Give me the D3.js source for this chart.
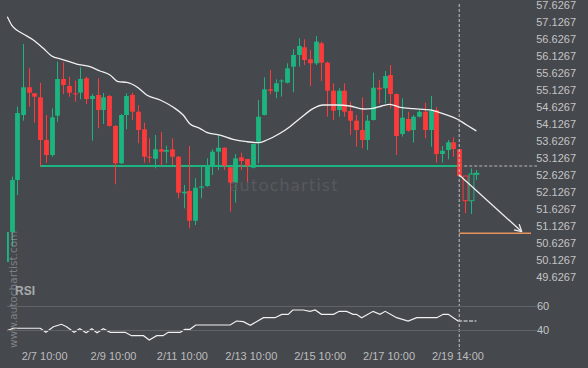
<!DOCTYPE html>
<html><head><meta charset="utf-8">
<script src="https://cdn.jsdelivr.net/npm/d3@7/dist/d3.min.js"></script>
<style>html,body{margin:0;padding:0;background:#45484d;}svg{display:block;}</style>
</head><body>
<script>
// ---- data ----
const open  = [50.068,50.950,52.480,54.391,55.206,55.029,54.912,53.656,53.215,54.371,55.450,55.244,55.029,55.047,55.471,54.862,54.980,54.538,54.950,54.068,52.971,54.391,54.980,54.488,53.971,53.165,53.106,53.382,53.312,53.382,53.165,52.088,52.156,51.283,52.253,52.303,52.891,53.312,53.429,52.853,52.400,53.147,53.097,52.841,53.606,54.391,55.147,55.077,55.377,55.341,55.812,56.156,56.383,56.030,55.912,56.500,55.930,55.106,54.538,55.106,54.509,54.224,53.950,53.656,54.244,55.194,55.177,55.568,55.009,53.833,54.274,53.950,54.341,54.488,53.950,54.538,53.244,53.362,53.588,53.382,52.597,51.871,52.650];
const high  = [50.980,52.577,54.636,56.480,55.765,55.029,55.341,54.391,54.588,55.959,55.941,55.518,55.400,55.794,55.518,55.009,55.471,55.038,54.980,54.097,54.421,55.029,55.047,54.677,54.165,53.706,53.803,53.891,53.488,53.706,53.185,52.333,53.480,52.530,52.871,53.118,53.382,53.803,53.440,52.860,53.244,53.282,53.100,53.550,54.833,55.500,55.715,55.441,55.441,55.912,56.324,56.648,56.618,56.303,56.715,56.548,55.959,55.324,55.177,55.324,54.782,54.391,54.912,54.391,55.635,55.421,55.685,55.862,55.020,54.882,54.488,54.391,54.538,54.753,54.950,54.618,53.480,53.656,53.735,53.390,52.600,52.824,52.774];
const low   = [50.039,50.518,52.039,54.224,54.636,54.165,52.891,52.988,53.165,54.194,55.009,54.930,54.782,54.853,54.715,53.635,54.000,54.127,54.048,52.353,52.950,53.971,54.244,53.559,52.988,52.988,52.824,52.912,52.971,52.921,51.941,51.647,51.059,51.156,51.941,52.280,52.626,52.774,52.774,51.547,51.812,52.774,52.333,52.824,52.971,54.380,55.000,54.882,54.930,55.320,55.059,55.812,55.862,55.244,55.862,55.391,54.341,54.244,54.341,54.341,53.803,53.459,53.412,53.362,54.230,54.735,54.735,54.588,53.215,53.753,53.900,53.577,54.320,53.706,53.459,52.988,52.988,53.088,53.165,52.570,51.500,51.480,52.480];
const close = [50.950,52.480,54.450,55.206,55.047,54.930,53.656,53.215,54.324,55.450,55.274,55.047,55.009,55.450,54.862,54.950,54.538,54.912,54.068,52.971,54.391,54.950,54.488,53.950,53.165,53.141,53.382,53.312,53.362,53.165,52.106,52.135,51.283,52.253,52.289,52.871,53.312,53.429,52.900,52.400,53.118,53.038,52.900,53.538,54.341,55.147,55.106,55.324,55.406,55.765,56.156,56.421,56.009,55.912,56.548,55.930,55.106,54.518,55.106,54.488,54.224,53.950,53.656,54.224,55.194,55.147,55.538,55.009,53.774,54.312,53.930,54.341,54.488,53.950,54.518,53.244,53.341,53.588,53.391,52.597,51.871,52.656,52.677];

const maIdx = [0.27,1.03,1.9,3.06,4.8,6.54,8.0,9.75,12.36,14.68,16.42,18.16,19.6,21.07,22.8,24.55,26.9,29.2,30.9,32.1,33.8,35.0,37.3,39.6,42.0,44.0,45.5,47.8,49.5,51.3,53.6,55.3,57.7,59.97,62.3,64.0,65.5,66.9,68.7,71.0,73.9,76.8,78.6,80.3,82.0];
const maVal = [57.283,57.038,56.891,56.774,56.597,56.353,56.127,56.030,55.891,55.812,55.686,55.568,55.371,55.353,55.224,54.980,54.833,54.618,54.391,54.127,54.000,53.883,53.803,53.677,53.606,53.577,53.656,53.853,54.047,54.294,54.588,54.686,54.686,54.656,54.568,54.588,54.656,54.706,54.618,54.577,54.539,54.392,54.274,54.097,53.921];

const rsiIdx = [0.27,1.3,6.0,7.0,8.3,9.7,10.6,11.9,12.9,14.0,15.0,15.9,17.0,18.2,20.8,21.9,24.0,25.0,26.3,27.4,28.3,30.4,31.2,32.1,33.1,39.1,40.2,41.4,42.6,44.9,46.9,48.1,49.2,50.0,51.8,53.0,53.9,55.0,57.1,58.1,59.4,60.5,61.1,62.0,64.0,65.2,66.1,68.1,70.1,71.6,75.1,76.2,77.1,78.8,82.0];
const rsiVal = [39.7,41.7,41.7,38.3,43.0,45.0,43.0,38.3,41.3,38.0,41.3,38.0,41.3,38.3,38.3,35.5,35.5,31.9,35.5,35.5,38.3,38.3,40.8,40.8,44.4,44.4,47.75,47.2,44.2,50.5,50.5,53.3,53.3,56.9,56.9,55.8,56.9,53.3,53.3,55.8,55.8,53.3,53.3,50.5,55.8,53.3,55.8,50.5,47.75,50.5,50.5,53.3,53.3,47.75,47.75];

const priceTicks = [57.6267,57.1267,56.6267,56.1267,55.6267,55.1267,54.6267,54.1267,53.6267,53.1267,52.6267,52.1267,51.6267,51.1267,50.6267,50.1267,49.6267];
const rsiTicks = [60,40];
const xLabelIdx = [7,19,31,43,55,67,79];
const xLabels = ["2/7 10:00","2/9 10:00","2/11 10:00","2/13 10:00","2/15 10:00","2/17 10:00","2/19 14:00"];

const supportLevel = 52.891;   // horizontal support line
const targetLevel = 50.912;    // forecast target
const signalIdx = 79;          // dashed vertical line
const arrowStart = {i:79, v:52.627};
const arrowEnd = {i:89.9, v:50.959};

// ---- drawing ----
const W = 588, H = 368;
const GREEN = "#1cb57f", RED = "#fd3a3a", BG = "#45484d";
const svg = d3.select("body").append("svg").attr("width", W).attr("height", H);
svg.append("rect").attr("width", W).attr("height", H).attr("fill", BG);

const x = d3.scaleLinear().domain([0, 82]).range([5.76, 5.76 + 82*5.74]);
const y = d3.scaleLinear().domain([49.6267, 57.6267]).range([277, 5]);
const yr = d3.scaleLinear().domain([40, 60]).range([330.3, 306.3]);

svg.append("defs").append("clipPath").attr("id","clip")
  .append("rect").attr("x",7).attr("y",0).attr("width",530).attr("height",H);

const plot = svg.append("g").attr("clip-path","url(#clip)");

// watermark
svg.append("text").attr("x", 284).attr("y", 191).attr("text-anchor","middle")
  .attr("font-family","Lato, 'DejaVu Sans', sans-serif").attr("font-size",18)
  .attr("letter-spacing",1.2).attr("fill","#56595e").text("autochartist");

// support line
plot.append("line").attr("x1", 40).attr("x2", x(signalIdx))
  .attr("y1", y(supportLevel)).attr("y2", y(supportLevel))
  .attr("stroke", GREEN).attr("stroke-width", 2);
plot.append("line").attr("x1", x(signalIdx)).attr("x2", 537)
  .attr("y1", y(supportLevel)).attr("y2", y(supportLevel))
  .attr("stroke", "#b8b8b8").attr("stroke-width", 1).attr("stroke-dasharray","3,2");

// candles
const data = open.map((o,i)=>({i, o, h:high[i], l:low[i], c:close[i]}));
const bw = 4.8;
const cg = plot.append("g");
data.forEach(d=>{
  const up = d.c >= d.o;
  const col = up ? GREEN : RED;
  const hollow = d.i > signalIdx;
  const cx = Math.round(x(d.i)) + 0.5;
  cg.append("line").attr("x1",cx).attr("x2",cx).attr("y1",y(d.h)).attr("y2",y(d.l))
    .attr("stroke",col).attr("stroke-width",1);
  const top = y(Math.max(d.o,d.c)), bot = y(Math.min(d.o,d.c));
  const hgt = Math.max(1, bot-top);
  cg.append("rect").attr("x", cx - bw/2).attr("y", top).attr("width", bw).attr("height", hgt)
    .attr("fill", hollow ? BG : col).attr("stroke", hollow ? col : "none").attr("stroke-width",1);
});

// moving average
plot.append("path").datum(maIdx.map((d,k)=>[d, maVal[k]]))
  .attr("d", d3.line().x(d=>x(d[0])).y(d=>y(d[1])).curve(d3.curveMonotoneX))
  .attr("fill","none").attr("stroke","#f0f0f0").attr("stroke-width",1.3);

// signal vertical dashed line
svg.append("line").attr("x1", x(signalIdx)).attr("x2", x(signalIdx)).attr("y1", 4).attr("y2", 350)
  .attr("stroke","#c4c4c4").attr("stroke-width",1).attr("stroke-dasharray","3,2");

// target line
svg.append("line").attr("x1", x(signalIdx)).attr("x2", 531)
  .attr("y1", y(targetLevel)).attr("y2", y(targetLevel))
  .attr("stroke","#e8935c").attr("stroke-width",1.5);

// arrow
const ax1 = x(arrowStart.i), ay1 = y(arrowStart.v), ax2 = x(arrowEnd.i), ay2 = y(arrowEnd.v);
svg.append("line").attr("x1",ax1).attr("y1",ay1).attr("x2",ax2).attr("y2",ay2)
  .attr("stroke","#eeeeee").attr("stroke-width",1.3);
const ang = Math.atan2(ay2-ay1, ax2-ax1);
[0.5,-0.5].forEach(a=>{
  svg.append("line").attr("x1",ax2).attr("y1",ay2)
    .attr("x2",ax2 - 8*Math.cos(ang+a)).attr("y2",ay2 - 8*Math.sin(ang+a))
    .attr("stroke","#eeeeee").attr("stroke-width",1.3);
});

// price axis labels
svg.append("g").selectAll("text").data(priceTicks).join("text")
  .attr("x", 576).attr("y", d=>y(d)).attr("dy","0.35em").attr("text-anchor","end")
  .attr("font-family","'Liberation Sans', Arial, sans-serif").attr("font-size",11)
  .attr("fill","#c4c4c4").text(d=>d.toFixed(4));

// RSI panel
svg.append("text").attr("x",15).attr("y",295).attr("font-family","'Liberation Sans', Arial, sans-serif")
  .attr("font-size",12).attr("font-weight","bold").attr("fill","#a9abad").text("RSI");
svg.append("g").selectAll("line").data(rsiTicks).join("line")
  .attr("x1",7).attr("x2",537).attr("y1",d=>Math.round(yr(d))+0.5).attr("y2",d=>Math.round(yr(d))+0.5)
  .attr("stroke","#5f6266").attr("stroke-width",1);
svg.append("g").selectAll("text").data(rsiTicks).join("text")
  .attr("x",537).attr("y",d=>yr(d)).attr("dy","0.35em")
  .attr("font-family","'Liberation Sans', Arial, sans-serif").attr("font-size",11)
  .attr("fill","#c4c4c4").text(d=>d);

const rsiPts = rsiIdx.map((d,k)=>[d, rsiVal[k]]);
const rl = d3.line().x(d=>x(d[0])).y(d=>yr(d[1]));
plot.append("path").datum(rsiPts.filter(p=>p[0]<=signalIdx-0.2))
  .attr("d", rl).attr("fill","none").attr("stroke","#f0f0f0").attr("stroke-width",1.2);
plot.append("path").datum(rsiPts.filter(p=>p[0]>=signalIdx-0.3))
  .attr("d", rl).attr("fill","none").attr("stroke","#f0f0f0").attr("stroke-width",1.2)
  .attr("stroke-dasharray","4,1.5");

// x labels
svg.append("g").selectAll("text").data(xLabelIdx).join("text")
  .attr("x", d=>x(d)-1.3).attr("y", 360).attr("text-anchor","middle")
  .attr("font-family","'Liberation Sans', Arial, sans-serif").attr("font-size",11)
  .attr("fill","#bdbdbd").text((d,k)=>xLabels[k]);

// vertical watermark
svg.append("text").attr("transform","translate(17,348) rotate(-90)")
  .attr("font-family","'DejaVu Sans', sans-serif").attr("font-size",10.5)
  .attr("fill","#8e9194").attr("fill-opacity",0.8).text("www.autochartist.com");
</script>
</body></html>
